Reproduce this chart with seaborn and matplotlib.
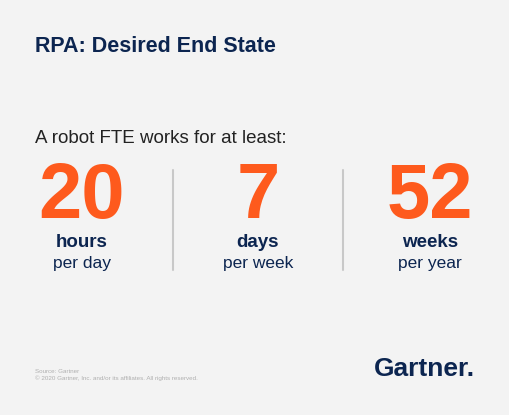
import matplotlib
matplotlib.use("Agg")
import matplotlib.pyplot as plt
import seaborn as sns

numbers = ["20", "7", "52"]
units = ["hours", "days", "weeks"]
periods = ["per day", "per week", "per year"]

navy = "#0c2550"
orange = "#fe5a1d"
bg = "#f3f3f3"

sns.set_theme(style="white")
plt.rcParams['font.family'] = ['Liberation Sans', 'DejaVu Sans']

fig = plt.figure(figsize=(5.1, 4.15), dpi=100, facecolor=bg)
ax = fig.add_axes([0, 0, 1, 1])
ax.set_facecolor(bg)
ax.set_xlim(0, 510)
ax.set_ylim(415, 0)
ax.axis("off")

ax.text(35, 46, "RPA: Desired End State", fontsize=15.5, fontweight="bold",
        color=navy, va="center", ha="left")
ax.text(35, 138, "A robot FTE works for at least:", fontsize=13.5,
        color="#222222", va="center", ha="left")

centers = [82, 258, 430]
for i, (n, u, p) in enumerate(zip(numbers, units, periods)):
    cx = centers[i]
    ax.text(cx, 218, n, fontsize=56, fontweight="bold", color=orange,
            ha="center", va="baseline")
    ax.text(cx, 242, u, fontsize=13.5, fontweight="bold", color=navy,
            ha="center", va="center")
    ax.text(cx, 263, p, fontsize=12.5, color=navy, ha="center", va="center")

for x in [173, 343]:
    ax.plot([x, x], [170, 270], color="#c8c8c8", lw=1.5)

ax.text(35, 371, "Source: Gartner", fontsize=4.5, color="#b0b0b0", va="center")
ax.text(35, 378, "\u00a9 2020 Gartner, Inc. and/or its affiliates. All rights reserved.",
        fontsize=4.5, color="#b0b0b0", va="center")
ax.text(475, 369, "Gartner.", fontsize=19, fontweight="bold", color=navy,
        ha="right", va="center")

fig.savefig("out.png", dpi=100, facecolor=bg)
